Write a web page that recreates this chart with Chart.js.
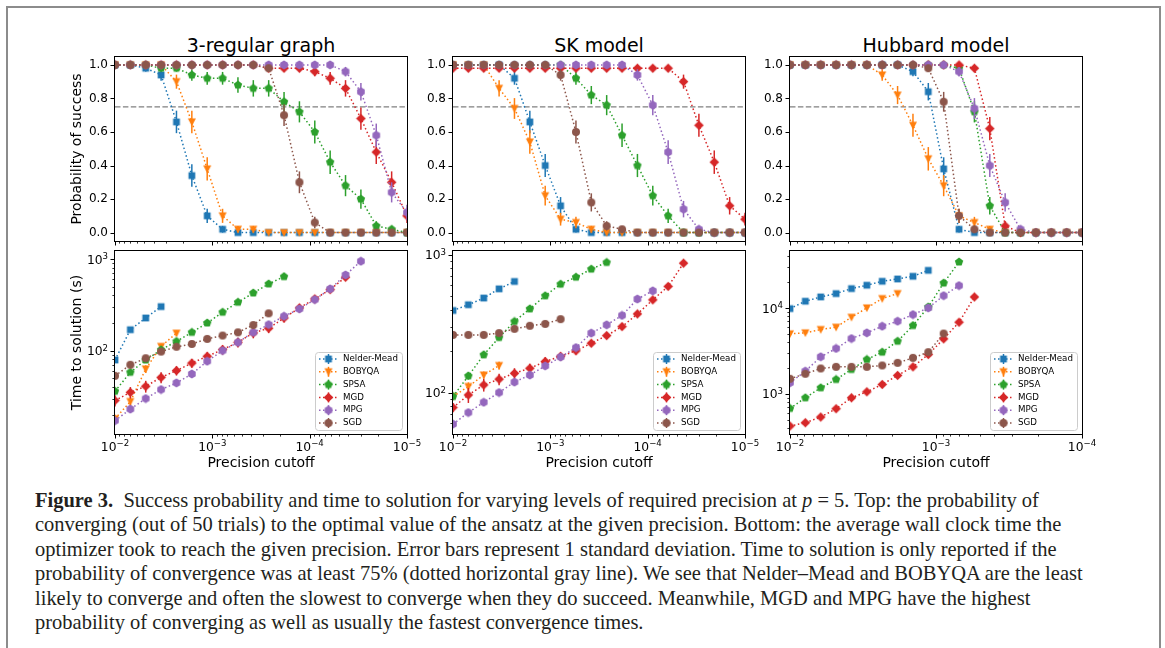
<!DOCTYPE html>
<html><head><meta charset="utf-8">
<script src="https://cdn.jsdelivr.net/npm/chart.js@4.4.0/dist/chart.umd.min.js"></script>
<style>
html,body{margin:0;padding:0;background:#fff;}
body{width:1165px;height:648px;position:relative;overflow:hidden;font-family:"DejaVu Sans";}
#frame{position:absolute;left:6px;top:6px;width:1155px;height:720px;border:2.5px solid #8c8c8c;box-sizing:border-box;}
canvas{position:absolute;}
.ptitle{position:absolute;width:292px;text-align:center;font-family:"DejaVu Sans";font-size:19px;line-height:24px;height:24px;color:#000;}
#caption{position:absolute;left:35px;top:488px;font-family:"Liberation Serif";color:#231f20;white-space:nowrap;}
#caption div{height:24.4px;line-height:24.4px;}
</style></head>
<body>
<div id="frame"></div>
<div class="ptitle" style="left:115px;top:33px;">3-regular graph</div>
<div class="ptitle" style="left:453px;top:33px;">SK model</div>
<div class="ptitle" style="left:790px;top:33px;">Hubbard model</div>
<div id="caption">
<div id="cap1"><b>Figure 3.</b>&nbsp;&nbsp;Success probability and time to solution for varying levels of required precision at <i>p</i> = 5. Top: the probability of</div>
<div>converging (out of 50 trials) to the optimal value of the ansatz at the given precision. Bottom: the average wall clock time the</div>
<div>optimizer took to reach the given precision. Error bars represent 1 standard deviation. Time to solution is only reported if the</div>
<div>probability of convergence was at least 75% (dotted horizontal gray line). We see that Nelder–Mead and BOBYQA are the least</div>
<div>likely to converge and often the slowest to converge when they do succeed. Meanwhile, MGD and MPG have the highest</div>
<div>probability of converging as well as usually the fastest convergence times.</div>
</div>
<script>
// ---------------- DATA ----------------
const SERIES = ['Nelder-Mead','BOBYQA','SPSA','MGD','MPG','SGD'];
const COLORS = ['#1f77b4','#ff7f0e','#2ca02c','#d62728','#9467bd','#8c564b'];
const MARKERS = ['square','triangleDown','pentagon','diamond','hexagon','circle'];

// precision cutoffs (x values)
const CUTOFF_A = [1.000e-2,6.952e-3,4.833e-3,3.360e-3,2.336e-3,1.624e-3,1.129e-3,7.848e-4,5.456e-4,3.793e-4,2.637e-4,1.833e-4,1.274e-4,8.859e-5,6.158e-5,4.281e-5,2.976e-5,2.069e-5,1.438e-5,1.000e-5];
const CUTOFF_B = [1.000e-2,7.848e-3,6.158e-3,4.833e-3,3.793e-3,2.976e-3,2.336e-3,1.833e-3,1.438e-3,1.129e-3,8.859e-4,6.952e-4,5.456e-4,4.281e-4,3.360e-4,2.637e-4,2.069e-4,1.624e-4,1.274e-4,1.000e-4];

const X_TICKS_A = [1e-2,1e-3,1e-4,1e-5];
const X_TICKS_B = [1e-2,1e-3,1e-4];
const PROB_TICKS = [0,0.2,0.4,0.6,0.8,1.0];
const TIME_TICKS_A = [1e2,1e3];
const TIME_TICKS_B = [1e3,1e4];
const THRESHOLD = 0.75;

// probability of success (rows: Nelder-Mead, BOBYQA, SPSA, MGD, MPG, SGD)
const REG3_PROB = [
 [1,1,0.98,0.94,0.66,0.34,0.10,0.02,0,0,0,0,0,0,0,0,0,0,0,0],
 [1,1,1,1,0.90,0.66,0.38,0.10,0.02,0.02,0,0,0,0,0,0,0,0,0,0],
 [1,1,1,0.98,0.98,0.94,0.92,0.92,0.88,0.86,0.86,0.78,0.72,0.60,0.42,0.28,0.20,0.04,0.02,0],
 [1,1,1,1,1,1,1,1,1,1,0.98,0.98,0.98,0.96,0.92,0.86,0.68,0.48,0.30,0.10],
 [1,1,1,1,1,1,1,1,1,1,1,1,1,1,1,0.96,0.84,0.58,0.24,0.12],
 [1,1,1,1,1,1,1,1,1,1,0.98,0.70,0.30,0.06,0,0,0,0,0,0]];
const REG3_PROB_ERR = [
 [0,0,0.02,0.034,0.067,0.067,0.042,0.02,0,0,0,0,0,0,0,0,0,0,0,0],
 [0,0,0,0,0.042,0.067,0.069,0.042,0.02,0.02,0,0,0,0,0,0,0,0,0,0],
 [0,0,0,0.02,0.02,0.034,0.038,0.038,0.046,0.049,0.049,0.059,0.063,0.069,0.07,0.063,0.057,0.028,0.02,0],
 [0,0,0,0,0,0,0,0,0,0,0.02,0.02,0.02,0.028,0.038,0.049,0.066,0.071,0.065,0.042],
 [0,0,0,0,0,0,0,0,0,0,0,0,0,0,0,0.028,0.052,0.07,0.06,0.046],
 [0,0,0,0,0,0,0,0,0,0,0.02,0.065,0.065,0.034,0,0,0,0,0,0]];

const SK_PROB = [
 [1,1,1,1,0.92,0.66,0.40,0.16,0.02,0,0,0,0,0,0,0,0,0,0,0],
 [1,1,1,0.86,0.74,0.54,0.22,0.08,0.06,0.02,0,0,0,0,0,0,0,0,0,0],
 [1,1,1,1,1,1,1,1,0.92,0.82,0.76,0.58,0.40,0.22,0.10,0,0,0,0,0],
 [0.98,0.98,0.98,0.98,0.98,0.98,0.98,0.98,0.98,0.98,0.98,0.98,0.98,0.98,0.98,0.90,0.64,0.42,0.16,0.08],
 [1,1,1,1,1,1,1,1,1,1,1,1,0.94,0.76,0.48,0.14,0.02,0,0,0],
 [1,1,1,1,1,1,1,0.94,0.60,0.18,0.04,0.02,0,0,0,0,0,0,0,0]];
const SK_PROB_ERR = [
 [0,0,0,0,0.038,0.067,0.069,0.052,0.02,0,0,0,0,0,0,0,0,0,0,0],
 [0,0,0,0.049,0.062,0.07,0.059,0.038,0.034,0.02,0,0,0,0,0,0,0,0,0,0],
 [0,0,0,0,0,0,0,0,0.038,0.054,0.06,0.07,0.069,0.059,0.042,0,0,0,0,0],
 [0.02,0.02,0.02,0.02,0.02,0.02,0.02,0.02,0.02,0.02,0.02,0.02,0.02,0.02,0.02,0.042,0.068,0.07,0.052,0.038],
 [0,0,0,0,0,0,0,0,0,0,0,0,0.034,0.06,0.071,0.049,0.02,0,0,0],
 [0,0,0,0,0,0,0,0.034,0.069,0.054,0.028,0.02,0,0,0,0,0,0,0,0]];

const HUB_PROB = [
 [1,1,1,1,1,1,1,1,0.96,0.84,0.38,0.02,0,0,0,0,0,0,0,0],
 [1,1,1,1,1,1,0.94,0.82,0.64,0.44,0.28,0.10,0.06,0.02,0,0,0,0,0,0],
 [1,1,1,1,1,1,1,1,1,1,1,0.98,0.72,0.16,0,0,0,0,0,0],
 [1,1,1,1,1,1,1,1,1,1,1,1,0.98,0.62,0.04,0,0,0,0,0],
 [1,1,1,1,1,1,1,1,1,1,1,0.96,0.74,0.40,0.18,0.02,0,0,0,0],
 [1,1,1,1,1,1,1,1,1,0.98,0.78,0.10,0.02,0,0,0,0,0,0,0]];
const HUB_PROB_ERR = [
 [0,0,0,0,0,0,0,0,0.028,0.052,0.069,0.02,0,0,0,0,0,0,0,0],
 [0,0,0,0,0,0,0.034,0.054,0.068,0.07,0.063,0.042,0.034,0.02,0,0,0,0,0,0],
 [0,0,0,0,0,0,0,0,0,0,0,0.02,0.063,0.052,0,0,0,0,0,0],
 [0,0,0,0,0,0,0,0,0,0,0,0,0.02,0.069,0.028,0,0,0,0,0],
 [0,0,0,0,0,0,0,0,0,0,0,0.028,0.062,0.069,0.054,0.02,0,0,0,0],
 [0,0,0,0,0,0,0,0,0,0.02,0.059,0.042,0.02,0,0,0,0,0,0,0]];

// time to solution in seconds (only where probability >= 75%)
const REG3_TIME = [
 [79,169,227,302],
 [18,27.8,63,111,155],
 [36,58,79,102,126,158,200,262,337,425,534,641],
 [28.5,35,40.8,51,60.5,73,86.7,102.5,123,156,175,227,292,366,463,631],
 [17.2,23,30,37.6,44.4,55.6,76.5,100,123,158,192,237,285,360,471,668,944],
 [53,70,82.5,97.5,110,118,134,146,158,190,255]];
const REG3_TIME_ERR = [
 [6,10,12,12],
 [2,3,6,8,10],
 [3,4,5,6,8,8,10,12,14,18,20,25],
 [4,5,6,7,7,8,9,12,15,20,20,25,30,30,35,45],
 [1.5,2,2,2.5,3,3.5,5,6,8,10,12,14,16,20,25,35,40],
 [4,5,5,6,6,7,8,8,9,10,12]];

const SK_TIME = [
 [394,434,485,566,640],
 [93.6,110.5,134,157],
 [93.6,132,188,251,328,405,504,612,688,787,880],
 [77.8,96,113.6,125,138,150,168,183,201,228,259,301,372,471,589,869],
 [59,71.6,85,100,119,134,156,181,212,270,310,363,477,547],
 [262,262,262,270,290,305,315,341]];
const SK_TIME_ERR = [
 [15,18,20,20,25],
 [5,8,8,10],
 [5,8,10,12,15,20,25,30,30,35,40],
 [6,12,12,12,12,12,12,12,12,12,14,16,18,20,25,35],
 [3,3,4,4,5,5,6,6,8,10,10,12,15,18],
 [8,8,8,8,10,10,10,12]];

const HUB_TIME = [
 [9820,11960,13430,14690,16790,18360,20430,21730,23340,27400],
 [4990,5120,5600,5960,7780,10000,12840,14690],
 [675,898,1174,1468,1920,2510,3050,4090,6230,10270,19500,34250],
 [421,460,536,670,898,1055,1284,1635,2060,2866,4360,6810,13420],
 [1343,1835,2695,3367,4400,5120,6120,6995,8360,10000,13900,18190],
 [1494,1709,1972,2060,2060,2060,2135,2293,2620,3050,5030]];
const HUB_TIME_ERR = [
 [400,480,540,590,670,730,820,870,930,1100],
 [200,200,220,240,310,400,510,590],
 [27,36,47,59,77,100,120,160,250,410,780,1370],
 [17,18,21,27,36,42,51,65,82,115,175,270,540],
 [54,73,108,135,176,205,245,280,330,400,560,730],
 [60,68,79,82,82,82,85,92,105,122,200]];

// ---------------- RENDERING ----------------
const PADL = 70, PADT = 12, PADR = 20, PADB = 45, PW = 292;
const BASE_FONT = '12.3px "DejaVu Sans"', EXP_FONT = '8.6px "DejaVu Sans"';

// draws "10" with a raised exponent (mathtext look); y = baseline
function drawPow(ctx, v, x, y, align){
  const e = Math.round(Math.log10(v));
  const base = '10', exp = (e < 0 ? '\u2212' : '') + Math.abs(e);
  ctx.font = BASE_FONT; const wb = ctx.measureText(base).width;
  ctx.font = EXP_FONT; const we = ctx.measureText(exp).width;
  const x0 = align === 'center' ? x - (wb + we) / 2 : x - (wb + we);
  ctx.textAlign = 'left'; ctx.textBaseline = 'alphabetic'; ctx.fillStyle = '#000';
  ctx.font = BASE_FONT; ctx.fillText(base, x0, y);
  ctx.font = EXP_FONT; ctx.fillText(exp, x0 + wb, y - 4.6);
}

function makeMarker(kind,color){
  const c=document.createElement('canvas');
  const s=kind==='diamond'?11:10; c.width=s;c.height=s;
  const g=c.getContext('2d'); g.fillStyle=color;
  const cx=s/2,cy=s/2; g.beginPath();
  if(kind==='square') g.rect(cx-3.4,cy-3.4,6.8,6.8);
  else if(kind==='triangleDown'){g.moveTo(cx-4,cy-3.6);g.lineTo(cx+4,cy-3.6);g.lineTo(cx,cy+4.2);g.closePath();}
  else if(kind==='diamond'){const r=4.8;g.moveTo(cx,cy-r);g.lineTo(cx+r,cy);g.lineTo(cx,cy+r);g.lineTo(cx-r,cy);g.closePath();}
  else if(kind==='pentagon'||kind==='hexagon'){const n=kind==='pentagon'?5:6,r=4.4;for(let k=0;k<n;k++){const t=-Math.PI/2+k*2*Math.PI/n;const px=cx+r*Math.cos(t),py=cy+r*Math.sin(t);if(k)g.lineTo(px,py);else g.moveTo(px,py);}g.closePath();}
  else g.arc(cx,cy,4,0,Math.PI*2);
  g.fill(); return c;
}
const MARKER_IMGS = MARKERS.map((m,i)=>makeMarker(m,COLORS[i]));

function logMinorValues(min,max){
  const out=[];
  for(let e=Math.floor(Math.log10(min))-1;e<=Math.ceil(Math.log10(max));e++){
    for(let m=2;m<=9;m++){const v=m*Math.pow(10,e); if(v>min&&v<max) out.push(v);}
  }
  return out;
}

const deco = {
  id:'deco',
  beforeDatasetsDraw(chart){
    const o=chart.options.plugins.deco, ctx=chart.ctx, a=chart.chartArea;
    if(o.threshold!=null){
      const y=chart.scales.y.getPixelForValue(o.threshold);
      ctx.save(); ctx.strokeStyle='#808080'; ctx.lineWidth=1.2; ctx.setLineDash([5.5,2.4]);
      ctx.beginPath(); ctx.moveTo(a.left,y); ctx.lineTo(a.right,y); ctx.stroke(); ctx.restore();
    }
  },
  beforeDatasetDraw(chart,args){
    const ds=chart.data.datasets[args.index]; if(!ds.err) return;
    const ctx=chart.ctx,a=chart.chartArea,xs=chart.scales.x,ys=chart.scales.y;
    ctx.save(); ctx.beginPath(); ctx.rect(a.left,a.top,a.right-a.left,a.bottom-a.top); ctx.clip();
    ctx.strokeStyle=ds.borderColor; ctx.lineWidth=1.5; ctx.setLineDash([]);
    ds.data.forEach((pt,i)=>{const e=ds.err[i]; if(!e) return;
      const x=xs.getPixelForValue(pt.x);
      ctx.beginPath(); ctx.moveTo(x,ys.getPixelForValue(pt.y-e)); ctx.lineTo(x,ys.getPixelForValue(pt.y+e)); ctx.stroke();});
    ctx.restore();
  },
  afterDraw(chart){
    const o=chart.options.plugins.deco, ctx=chart.ctx, a=chart.chartArea, xs=chart.scales.x, ys=chart.scales.y;
    ctx.save();
    ctx.strokeStyle='#000'; ctx.lineWidth=1; ctx.setLineDash([]);
    // x ticks
    const xt=(v,len)=>{const x=Math.round(xs.getPixelForValue(v))+0.5; ctx.beginPath(); ctx.moveTo(x,a.bottom); ctx.lineTo(x,a.bottom+len); ctx.stroke();};
    o.xMajor.forEach(v=>xt(v,4.5));
    ctx.lineWidth=0.8; logMinorValues(xs.min,xs.max).forEach(v=>xt(v,2.6));
    // y ticks
    const yt=(v,len)=>{const y=Math.round(ys.getPixelForValue(v))+0.5; ctx.beginPath(); ctx.moveTo(a.left,y); ctx.lineTo(a.left-len,y); ctx.stroke();};
    ctx.lineWidth=1; o.yMajor.forEach(v=>yt(v,4.5));
    if(o.ylog){ctx.lineWidth=0.8; logMinorValues(ys.min,ys.max).forEach(v=>yt(v,2.6));}
    // power-of-ten tick labels placed by the library's scales
    if(o.showX) xs.ticks.forEach(t=>drawPow(ctx,t.value,xs.getPixelForValue(t.value),a.bottom+16.7,'center'));
    if(o.ylog) ys.ticks.forEach(t=>drawPow(ctx,t.value,a.left-7,ys.getPixelForValue(t.value)+4.6,'right'));
    // frame
    ctx.lineWidth=1; ctx.strokeStyle='#000';
    ctx.strokeRect(a.left-0.5,a.top-0.5,a.right-a.left+1,a.bottom-a.top+1);
    // axis titles
    ctx.fillStyle='#000'; ctx.font='14px "DejaVu Sans"';
    if(o.xTitle){ctx.textAlign='center'; ctx.textBaseline='middle'; ctx.fillText(o.xTitle,(a.left+a.right)/2,a.bottom+29);}
    if(o.yTitle){ctx.save(); ctx.translate(a.left-38,(a.top+a.bottom)/2); ctx.rotate(-Math.PI/2);
      ctx.textAlign='center'; ctx.textBaseline='middle'; ctx.fillText(o.yTitle,0,0); ctx.restore();}
    // legend
    if(o.legend){
      const bw=87,bh=78,x0=a.right-5-bw,y0=a.bottom-4-bh;
      ctx.beginPath(); ctx.roundRect(x0+0.5,y0+0.5,bw,bh,3);
      ctx.fillStyle='rgba(255,255,255,0.8)'; ctx.fill(); ctx.strokeStyle='#cccccc'; ctx.lineWidth=1; ctx.stroke();
      ctx.font='8.7px "DejaVu Sans"'; ctx.textAlign='left'; ctx.textBaseline='middle';
      SERIES.forEach((name,i)=>{
        const cy=y0+7+i*12.8, hx0=x0+4, hx1=x0+23, hc=(hx0+hx1)/2;
        ctx.strokeStyle=COLORS[i]; ctx.lineWidth=1.5; ctx.setLineDash([1.5,2.5]);
        ctx.beginPath(); ctx.moveTo(hx0,cy); ctx.lineTo(hx1,cy); ctx.stroke();
        ctx.setLineDash([]); ctx.beginPath(); ctx.moveTo(hc,cy-5); ctx.lineTo(hc,cy+5); ctx.stroke();
        const im=MARKER_IMGS[i]; ctx.drawImage(im,hc-im.width/2,cy-im.height/2);
        ctx.fillStyle='#000'; ctx.fillText(name,x0+28,cy);
      });
    }
    ctx.restore();
  }
};

function makePanel(P){
  const cv=document.createElement('canvas');
  cv.width=PW+PADL+PADR; cv.height=P.H+PADT+PADB;
  cv.style.left=(P.L-PADL)+'px'; cv.style.top=(P.T-PADT)+'px';
  document.body.appendChild(cv);
  const datasets=SERIES.map((name,i)=>({
    label:name,
    data:P.ys[i].map((v,k)=>({x:P.xs[k],y:v})),
    err:P.errs[i],
    borderColor:COLORS[i], backgroundColor:COLORS[i],
    borderWidth:1.5, borderDash:[1.5,2.5], borderCapStyle:'butt',
    pointStyle:MARKER_IMGS[i], pointRadius:4, pointHoverRadius:4, pointBorderWidth:0,
    fill:false, tension:0, clip:0, order:5-i
  }));
  const tickFont={family:'DejaVu Sans',size:12};
  new Chart(cv,{type:'line',data:{datasets},plugins:[deco],options:{
    responsive:false, animation:false, devicePixelRatio:1, events:[],
    layout:{padding:{left:0,top:PADT,right:PADR,bottom:0}},
    plugins:{legend:{display:false},tooltip:{enabled:false},
      deco:{threshold:P.threshold,xMajor:P.xTicks,yMajor:P.yTicks,ylog:P.ylog,showX:P.showX,xTitle:P.xTitle,yTitle:P.yTitle,legend:P.legend}},
    scales:{
      x:{type:'logarithmic',reverse:true,min:P.xmin,max:P.xmax,
        grid:{display:false,drawTicks:false},border:{display:false},
        ticks:{display:false,autoSkip:false,maxRotation:0,minRotation:0},
        afterBuildTicks:s=>{s.ticks=P.xTicks.map(v=>({value:v}));},
        afterFit:s=>{s.height=PADB;s.paddingLeft=0;s.paddingRight=0;}},
      y:{type:P.ylog?'logarithmic':'linear',min:P.ymin,max:P.ymax,
        grid:{display:false,drawTicks:false},border:{display:false},
        ticks:{display:!P.ylog,autoSkip:false,padding:7,font:tickFont,color:'#000',callback:v=>Number(v).toFixed(1)},
        afterBuildTicks:s=>{s.ticks=P.yTicks.map(v=>({value:v}));},
        afterFit:s=>{s.width=PADL;s.paddingTop=0;s.paddingBottom=0;}}
    }
  }});
}

const COLS=[{L:115,xs:CUTOFF_A,xmin:1e-5,xmax:1e-2,xTicks:X_TICKS_A},
            {L:453,xs:CUTOFF_A,xmin:1e-5,xmax:1e-2,xTicks:X_TICKS_A},
            {L:790,xs:CUTOFF_B,xmin:1e-4,xmax:1e-2,xTicks:X_TICKS_B}];
const PROBS=[[REG3_PROB,REG3_PROB_ERR],[SK_PROB,SK_PROB_ERR],[HUB_PROB,HUB_PROB_ERR]];
const TIMES=[[REG3_TIME,REG3_TIME_ERR,12.3,1220,TIME_TICKS_A],[SK_TIME,SK_TIME_ERR,50,1065,TIME_TICKS_A],[HUB_TIME,HUB_TIME_ERR,340,46000,TIME_TICKS_B]];

COLS.forEach((c,ci)=>{
  makePanel({L:c.L,T:57,H:184,xs:c.xs,xmin:c.xmin,xmax:c.xmax,xTicks:c.xTicks,showX:false,
    ys:PROBS[ci][0],errs:PROBS[ci][1],ylog:false,ymin:-0.05,ymax:1.047,yTicks:PROB_TICKS,
    threshold:THRESHOLD,yTitle:ci===0?'Probability of success':null,xTitle:null,legend:false});
  makePanel({L:c.L,T:251,H:183,xs:c.xs,xmin:c.xmin,xmax:c.xmax,xTicks:c.xTicks,showX:true,
    ys:TIMES[ci][0],errs:TIMES[ci][1],ylog:true,ymin:TIMES[ci][2],ymax:TIMES[ci][3],yTicks:TIMES[ci][4],
    threshold:null,yTitle:ci===0?'Time to solution (s)':null,xTitle:'Precision cutoff',legend:true});
});

// fit caption font so that the first line spans the same width as the reference
(function(){
  const cap=document.getElementById('caption'); cap.style.fontSize='20px';
  const w=document.getElementById('cap1').getBoundingClientRect().width;
  cap.style.fontSize=(20*1048/w).toFixed(2)+'px';
})();
</script>
</body></html>
